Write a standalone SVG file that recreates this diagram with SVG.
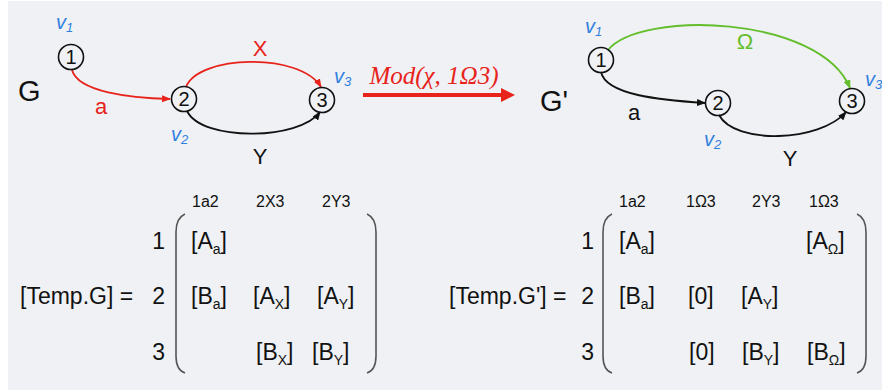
<svg xmlns="http://www.w3.org/2000/svg" width="882" height="390" viewBox="0 0 882 390">
<style>
text{font-family:"Liberation Sans",Arial,sans-serif;fill:#111}
.node circle{fill:none;stroke:#111;stroke-width:1.6}
.node text{font-size:20px;text-anchor:middle}
.vl{fill:#2f7fe0;font-style:italic;font-size:20px}
.vl tspan{font-size:13px}
.edge{fill:none;stroke-width:1.8}
.red{stroke:#e8231b}.blk{stroke:#111}.grn{stroke:#62be2a}
.el{font-size:22px}
.gl{font-size:29px}
.m{font-size:23px}
.hd{font-size:16px}
.rl{font-size:23px;text-anchor:end}
.par{fill:none;stroke:#555;stroke-width:1.6}
.sub{font-size:14px}
</style>
<defs>
<marker id="ar" markerWidth="9" markerHeight="7" refX="8" refY="3.5" orient="auto" markerUnits="userSpaceOnUse"><path d="M0,0 L9,3.5 L0,7 z" fill="#e8231b"/></marker>
<marker id="ab" markerWidth="9" markerHeight="7" refX="8" refY="3.5" orient="auto" markerUnits="userSpaceOnUse"><path d="M0,0 L9,3.5 L0,7 z" fill="#111"/></marker>
<marker id="ag" markerWidth="9" markerHeight="7" refX="8" refY="3.5" orient="auto" markerUnits="userSpaceOnUse"><path d="M0,0 L9,3.5 L0,7 z" fill="#62be2a"/></marker>
<marker id="abig" markerWidth="14" markerHeight="14" refX="2" refY="7" orient="auto" markerUnits="userSpaceOnUse"><path d="M0,0 L14,7 L0,14 z" fill="#e8231b"/></marker>
</defs>
<rect x="0" y="0" width="882" height="390" fill="#ffffff"/>
<rect x="8" y="1" width="874" height="389" fill="#eff1f4"/>

<g id="connectors">
<path class="edge red" d="M72,70 C78,92 130,98 170,99" marker-end="url(#ar)"/>
<path class="edge red" d="M186,87 C198,55 300,52 321,87" marker-end="url(#ar)"/>
<path class="edge blk" d="M187,111 C202,142 300,140 320,112" marker-end="url(#ab)"/>
<path d="M363,95 L503,95" stroke="#e8231b" stroke-width="4" fill="none" marker-end="url(#abig)"/>
<path class="edge blk" d="M601,72 C606,95 660,100 705,103" marker-end="url(#ab)"/>
<path class="edge grn" d="M608,50 C640,10 820,15 850,88" marker-end="url(#ag)"/>
<path class="edge blk" d="M719,115 C735,145 820,142 846,112" marker-end="url(#ab)"/>
</g>

<g id="G-label"><text class="gl" x="18" y="101">G</text></g>
<g id="v1" class="node"><circle cx="71" cy="57" r="12.5"/><text x="71" y="64">1</text></g>
<g id="v2" class="node"><circle cx="184" cy="99" r="12.5"/><text x="184" y="106">2</text></g>
<g id="v3" class="node"><circle cx="322" cy="100" r="12.5"/><text x="322" y="107">3</text></g>
<text class="vl" x="56" y="29">v<tspan dy="3">1</tspan></text>
<text class="vl" x="171" y="141">v<tspan dy="3">2</tspan></text>
<text class="vl" x="334" y="83">v<tspan dy="3">3</tspan></text>
<text class="el" x="101" y="114" style="fill:#e8231b;text-anchor:middle">a</text>
<text class="el" x="260" y="56" style="fill:#e8231b;text-anchor:middle">X</text>
<text class="el" x="260" y="164" style="text-anchor:middle">Y</text>

<g id="mod-label"><text x="434" y="84" style="font-family:'Liberation Serif','Times New Roman',serif;font-style:italic;font-size:25px;fill:#e8231b;text-anchor:middle">Mod(χ, 1Ω3)</text></g>

<g id="Gp-label"><text class="gl" x="540" y="111">G'</text></g>
<g id="w1" class="node"><circle cx="601" cy="60" r="12.5"/><text x="601" y="67">1</text></g>
<g id="w2" class="node"><circle cx="718" cy="103" r="12.5"/><text x="718" y="110">2</text></g>
<g id="w3" class="node"><circle cx="852" cy="101" r="12.5"/><text x="852" y="108">3</text></g>
<text class="vl" x="585" y="33">v<tspan dy="3">1</tspan></text>
<text class="vl" x="704" y="146">v<tspan dy="3">2</tspan></text>
<text class="vl" x="865" y="86">v<tspan dy="3">3</tspan></text>
<text class="el" x="745" y="49" style="fill:#62be2a;text-anchor:middle">Ω</text>
<text class="el" x="634" y="120" style="text-anchor:middle">a</text>
<text class="el" x="790" y="166" style="text-anchor:middle">Y</text>

<g id="matrix-G">
<text class="m" x="20" y="304">[Temp.G] =</text>
<text class="hd" x="192" y="207">1a2</text>
<text class="hd" x="256" y="207">2X3</text>
<text class="hd" x="322" y="207">2Y3</text>
<text class="rl" x="165" y="249">1</text>
<text class="rl" x="165" y="304">2</text>
<text class="rl" x="165" y="360">3</text>
<path class="par" d="M185,214 Q176,218 176,232 L176,356 Q176,370 185,373"/>
<path class="par" d="M367,214 Q376,218 376,232 L376,356 Q376,370 367,373"/>
<text class="m" x="191" y="249">[A<tspan class="sub" dy="5">a</tspan><tspan dy="-5">]</tspan></text>
<text class="m" x="191" y="304">[B<tspan class="sub" dy="5">a</tspan><tspan dy="-5">]</tspan></text>
<text class="m" x="253" y="304">[A<tspan class="sub" dy="5">X</tspan><tspan dy="-5">]</tspan></text>
<text class="m" x="317" y="304">[A<tspan class="sub" dy="5">Y</tspan><tspan dy="-5">]</tspan></text>
<text class="m" x="256" y="360">[B<tspan class="sub" dy="5">X</tspan><tspan dy="-5">]</tspan></text>
<text class="m" x="312" y="360">[B<tspan class="sub" dy="5">Y</tspan><tspan dy="-5">]</tspan></text>
</g>

<g id="matrix-Gp">
<text class="m" x="449" y="304">[Temp.G'] =</text>
<text class="hd" x="619" y="207">1a2</text>
<text class="hd" x="686" y="207">1Ω3</text>
<text class="hd" x="752" y="207">2Y3</text>
<text class="hd" x="809" y="207">1Ω3</text>
<text class="rl" x="594" y="249">1</text>
<text class="rl" x="594" y="304">2</text>
<text class="rl" x="594" y="360">3</text>
<path class="par" d="M612,214 Q603,218 603,232 L603,356 Q603,370 612,373"/>
<path class="par" d="M857,214 Q866,218 866,232 L866,356 Q866,370 857,373"/>
<text class="m" x="619" y="249">[A<tspan class="sub" dy="5">a</tspan><tspan dy="-5">]</tspan></text>
<text class="m" x="806" y="249">[A<tspan class="sub" dy="5">Ω</tspan><tspan dy="-5">]</tspan></text>
<text class="m" x="619" y="304">[B<tspan class="sub" dy="5">a</tspan><tspan dy="-5">]</tspan></text>
<text class="m" x="688" y="304">[0]</text>
<text class="m" x="741" y="304">[A<tspan class="sub" dy="5">Y</tspan><tspan dy="-5">]</tspan></text>
<text class="m" x="689" y="360">[0]</text>
<text class="m" x="742" y="360">[B<tspan class="sub" dy="5">Y</tspan><tspan dy="-5">]</tspan></text>
<text class="m" x="807" y="360">[B<tspan class="sub" dy="5">Ω</tspan><tspan dy="-5">]</tspan></text>
</g>
</svg>
